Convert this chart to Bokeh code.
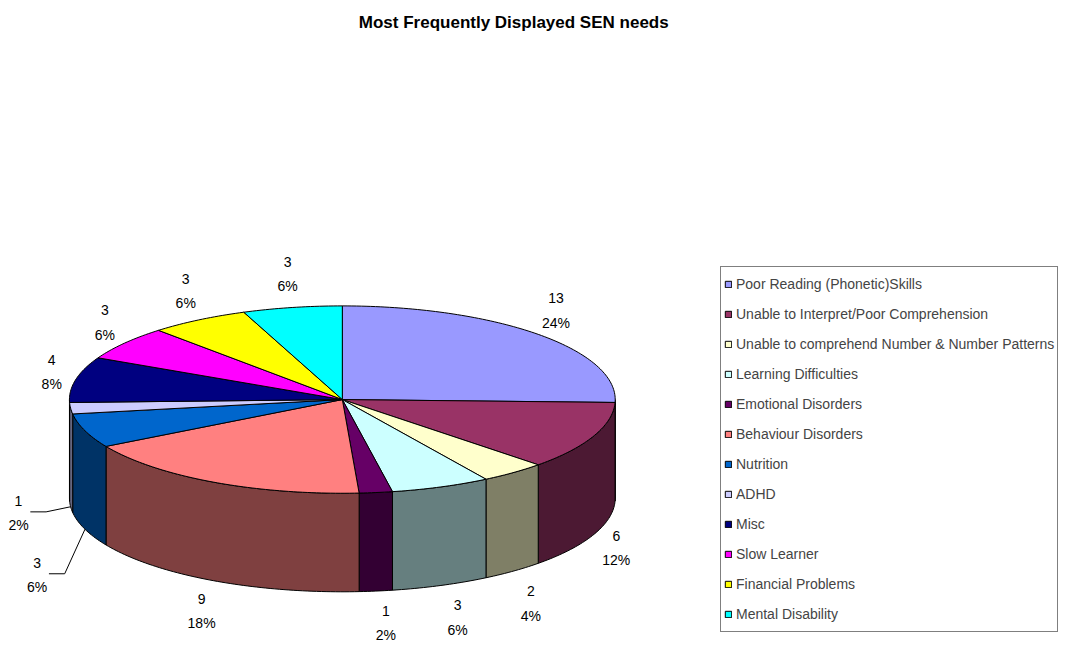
import numpy as np
from bokeh.plotting import figure
from bokeh.models import ColumnDataSource, Range1d, Legend, LegendItem
from bokeh.core.properties import value
from bokeh.embed import file_html
from bokeh.resources import INLINE

# ---------------- data ----------------
title_text = "Most Frequently Displayed SEN needs"
categories = [
    "Poor Reading (Phonetic)Skills",
    "Unable to Interpret/Poor Comprehension",
    "Unable to comprehend Number & Number Patterns",
    "Learning Difficulties",
    "Emotional Disorders",
    "Behaviour Disorders",
    "Nutrition",
    "ADHD",
    "Misc",
    "Slow Learner",
    "Financial Problems",
    "Mental Disability",
]
counts = [13, 6, 2, 3, 1, 9, 3, 1, 4, 3, 3, 3]
percent_labels = ["24%", "12%", "4%", "6%", "2%", "18%", "6%", "2%", "8%", "6%", "6%", "6%"]
colors = ["#9999FF", "#993366", "#FFFFCC", "#CCFFFF", "#660066", "#FF8080",
          "#0066CC", "#CCCCFF", "#000080", "#FF00FF", "#FFFF00", "#00FFFF"]

# ---------------- layout ----------------
W, H = 1059, 643
CX, CY, RX, RY, DEPTH = 347, 409, 277, 96, 101
FONT = "Liberation Sans"
LABEL_SIZE = "14px"
label_nudge = {2: (2, 6), 3: (8, 0), 4: (7, -2), 6: (-25, 35), 7: (-28, 3)}
leader_slices = [6, 7]


def shade(hex_color, f=0.5):
    h = hex_color.lstrip("#")
    r, g, b = (int(h[i:i + 2], 16) for i in (0, 2, 4))
    return "#%02X%02X%02X" % (int(r * f), int(g * f), int(b * f))


def arc(a0, a1, dy=0.0):
    n = max(2, int(abs(a1 - a0) / 1.0) + 2)
    t = np.radians(np.linspace(a0, a1, n))
    return list(CX + RX * np.cos(t)), list(CY - RY * np.sin(t) + dy)


total = float(sum(counts))
deg = 360.0 / total
cum = np.concatenate([[0], np.cumsum(counts)])
starts = [90 - cum[i] * deg for i in range(len(counts))]
ends = [90 - cum[i + 1] * deg for i in range(len(counts))]
mids = [(s + e) / 2 for s, e in zip(starts, ends)]

p = figure(width=W, height=H, x_range=Range1d(0, 1075), y_range=Range1d(659, 0),
           x_axis_type=None, y_axis_type=None, output_backend="svg",
           toolbar_location=None, min_border=0)
p.grid.visible = False
p.outline_line_color = None

# ----- side walls (front half only) -----
wx, wy, wc = [], [], []
for i in range(len(counts)):
    hi = min(starts[i], 0.0)
    lo = max(ends[i], -180.0)
    if lo < hi:
        tx, ty = arc(hi, lo)
        bx, by = arc(lo, hi, dy=DEPTH)
        wx.append(tx + bx)
        wy.append(ty + by)
        wc.append(shade(colors[i]))
p.patches(xs="xs", ys="ys", source=ColumnDataSource(dict(xs=wx, ys=wy, c=wc)),
          fill_color="c", line_color="black", line_width=1)

# ----- top face -----
txs, tys = [], []
for i in range(len(counts)):
    ax, ay = arc(starts[i], ends[i])
    txs.append([CX] + ax)
    tys.append([CY] + ay)
top_src = ColumnDataSource(dict(xs=txs, ys=tys, c=colors, name=categories))
r_top = p.patches(xs="xs", ys="ys", source=top_src, fill_color="c",
                  line_color="black", line_width=1)

# ----- data labels -----
lx, ly = [], []
for i, m in enumerate(mids):
    t = np.radians(m)
    x = CX + (RX + 25) * np.cos(t)
    y = CY - (RY + 35) * np.sin(t) + (DEPTH if np.sin(t) < 0 else 0)
    dx, dy = label_nudge.get(i, (0, 0))
    lx.append(x + dx)
    ly.append(y + dy)

num_src = ColumnDataSource(dict(x=lx, y=[v - 12.5 for v in ly], t=[str(c) for c in counts]))
pct_src = ColumnDataSource(dict(x=lx, y=[v + 12.5 for v in ly], t=percent_labels))
for src in (num_src, pct_src):
    p.text(x="x", y="y", text="t", source=src, text_font=value(FONT),
           text_font_size=LABEL_SIZE, text_align="center", text_baseline="middle",
           text_color="black")

# ----- leader lines -----
for i in leader_slices:
    t = np.radians(mids[i])
    axp = CX + RX * np.cos(t)
    ayp = CY - RY * np.sin(t) + DEPTH
    p.line(x=[lx[i] + 12, lx[i] + 28, axp], y=[ly[i] - 1, ly[i] - 1, ayp],
           line_color="black", line_width=1)

# ----- title -----
p.text(x=[521], y=[23], text=[title_text], text_font=value(FONT), text_font_style="bold",
       text_font_size="17px", text_align="center", text_baseline="middle", text_color="black")

# ----- legend -----
items = [LegendItem(label=categories[i], renderers=[r_top], index=i) for i in range(len(categories))]
legend = Legend(items=items, location=(720, 11), label_text_font=FONT,
                label_text_font_size=LABEL_SIZE, glyph_width=8, glyph_height=8,
                label_standoff=4, padding=3, spacing=2, label_height=28,
                border_line_color="black", border_line_width=1, margin=0,
                background_fill_color="white", background_fill_alpha=1.0)
p.add_layout(legend)

open("out.html", "w").write(file_html(p, INLINE))
